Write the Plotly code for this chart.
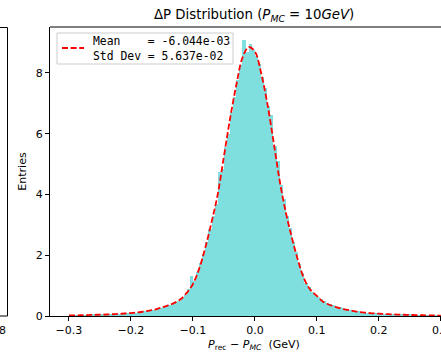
import numpy as np
import plotly.graph_objects as go

# ---- data ----
bin_width = 0.005
bin_lo, bin_hi = -0.3, 0.3
hist_vals = [
    0.017, 0.019, 0.021, 0.023, 0.026, 0.028, 0.032, 0.035, 0.039, 0.041,
    0.045, 0.048, 0.052, 0.056, 0.061, 0.066, 0.073, 0.078, 0.087, 0.093,
    0.103, 0.11, 0.125, 0.14, 0.155, 0.17, 0.19, 0.21, 0.235, 0.26,
    0.295, 0.33, 0.37, 0.40, 0.46, 0.51, 0.60, 0.70, 0.88, 1.32,
    1.15, 1.45, 1.75, 2.05, 2.45, 2.85, 3.3, 3.7, 4.75, 4.85,
    5.55, 6.0, 6.7, 7.2, 7.75, 8.25, 9.08, 8.7, 8.95, 8.75,
    8.55, 8.3, 7.85, 7.5, 6.9, 6.6, 5.6, 5.1, 4.3, 3.85,
    3.3, 2.9, 2.45, 2.1, 1.7, 1.4, 1.1, 0.95, 0.8, 0.7,
    0.62, 0.55, 0.49, 0.43, 0.39, 0.35, 0.31, 0.28, 0.25, 0.23,
    0.21, 0.19, 0.17, 0.15, 0.135, 0.12, 0.11, 0.1, 0.092, 0.085,
    0.078, 0.07, 0.064, 0.059, 0.054, 0.05, 0.046, 0.043, 0.04, 0.037,
    0.034, 0.031, 0.029, 0.026, 0.024, 0.022, 0.02, 0.018, 0.016, 0.015,
]
fit_x = [round(-0.30 + 0.01 * i, 2) for i in range(61)]
fit_y = [
    0.016, 0.02, 0.025, 0.03, 0.038, 0.043, 0.05, 0.058, 0.068, 0.082,
    0.097, 0.115, 0.145, 0.18, 0.22, 0.28, 0.35, 0.43, 0.55, 0.76,
    1.05, 1.55, 2.25, 3.08, 4.0, 5.25, 6.5, 7.6, 8.5, 8.85,
    8.7, 8.0, 7.0, 5.75, 4.45, 3.4, 2.55, 1.8, 1.2, 0.85,
    0.66, 0.47, 0.37, 0.3, 0.24, 0.2, 0.16, 0.125, 0.105, 0.088,
    0.075, 0.063, 0.055, 0.047, 0.041, 0.035, 0.03, 0.025, 0.02, 0.016,
    0.013,
]
mean_txt = "-6.044e-03"
std_txt = "5.637e-02"
x_ticks = [-0.3, -0.2, -0.1, 0.0, 0.1, 0.2, 0.3]
y_ticks = [0, 2, 4, 6, 8]

edges = np.linspace(bin_lo, bin_hi, len(hist_vals) + 1)
centers = (edges[:-1] + edges[1:]) / 2

# ---- layout geometry (pixels) ----
W, H = 441, 353
L, R, T, B = 50, 0, 27, 37
pw, ph = W - L - R, H - T - B


def px2x(px):
    return (px - L) / pw


def px2y(py):
    return (H - B - py) / ph


RED_DASH = dict(color="red", width=1.8, dash="6px,2.6px")

fig = go.Figure()
fig.add_trace(go.Bar(
    x=centers, y=hist_vals, width=bin_width,
    marker=dict(color="rgb(127,223,223)", line=dict(width=0)),
    showlegend=False, hoverinfo="skip",
))
fig.add_trace(go.Scatter(
    x=fit_x, y=fit_y, mode="lines", line_shape="spline",
    line=RED_DASH, name="fit", showlegend=False,
))

fig.update_layout(
    width=W, height=H,
    margin=dict(l=L, r=R, t=T, b=B, autoexpand=False),
    paper_bgcolor="white", plot_bgcolor="white",
    bargap=0,
    font=dict(family="DejaVu Sans", size=11, color="black"),
    showlegend=False,
)
fig.update_xaxes(
    range=[-0.3306, 0.3003], tickvals=x_ticks,
    ticktext=[f"{v:.1f}".replace("-", "\u2212") for v in x_ticks],
    showline=True, linecolor="black", linewidth=1, mirror=False,
    ticks="outside", ticklen=4, tickcolor="black", tickwidth=1,
    showgrid=False, zeroline=False, ticklabeloverflow="allow",
    automargin=False, tickfont=dict(size=11),
)
fig.update_yaxes(
    range=[0, 9.51], tickvals=y_ticks,
    showline=True, linecolor="black", linewidth=1,
    ticks="outside", ticklen=4, tickcolor="black", tickwidth=1,
    showgrid=False, zeroline=False, automargin=False,
    title=dict(text="Entries", font=dict(size=11), standoff=6),
    tickfont=dict(size=11),
)

shapes = [
    # top spine of main axes
    dict(type="line", xref="paper", yref="paper", x0=0, x1=1, y0=1, y1=1,
         line=dict(color="black", width=1)),
    # remnants of neighbouring panel
    dict(type="line", xref="paper", yref="paper", x0=px2x(7.5), x1=px2x(7.5),
         y0=px2y(316), y1=px2y(27.5), line=dict(color="black", width=1)),
    dict(type="line", xref="paper", yref="paper", x0=px2x(0), x1=px2x(7.5),
         y0=px2y(27.5), y1=px2y(27.5), line=dict(color="black", width=1)),
    dict(type="line", xref="paper", yref="paper", x0=px2x(0), x1=px2x(7.5),
         y0=px2y(316), y1=px2y(316), line=dict(color="black", width=1)),
    # legend box
    dict(type="rect", xref="paper", yref="paper", layer="above",
         x0=px2x(57), x1=px2x(233), y0=px2y(64), y1=px2y(33),
         fillcolor="rgba(255,255,255,0.8)", line=dict(color="#cccccc", width=1)),
    # legend handle
    dict(type="line", xref="paper", yref="paper", layer="above",
         x0=px2x(62), x1=px2x(84), y0=px2y(48), y1=px2y(48), line=RED_DASH),
]
fig.update_layout(shapes=shapes)

nb = "\u00a0"
legend_text = f"Mean{nb*4}={nb}{mean_txt}<br>Std{nb}Dev{nb}={nb}{std_txt}"

annotations = [
    dict(text="\u0394P Distribution (<i>P</i><sub><i>MC</i></sub> = 10<i>GeV</i>)",
         xref="paper", yref="paper", x=px2x(254.5), y=px2y(15),
         xanchor="center", yanchor="middle", showarrow=False,
         font=dict(size=13.3)),
    dict(text=f"<i>P</i><sub>rec</sub> \u2212 <i>P</i><sub><i>MC</i></sub>{nb}{nb}(GeV)",
         xref="paper", yref="paper", x=px2x(254.5), y=px2y(345.5),
         xanchor="center", yanchor="middle", showarrow=False,
         font=dict(size=11)),
    dict(text="8", xref="paper", yref="paper", x=px2x(8), y=px2y(330),
         xanchor="right", yanchor="middle", showarrow=False, font=dict(size=11)),
    dict(text=legend_text, xref="paper", yref="paper", x=px2x(91), y=px2y(48.5),
         xanchor="left", yanchor="middle", align="left", showarrow=False,
         font=dict(family="DejaVu Sans Mono", size=11.4)),
]
fig.update_layout(annotations=annotations)

fig.write_html("out.html")
